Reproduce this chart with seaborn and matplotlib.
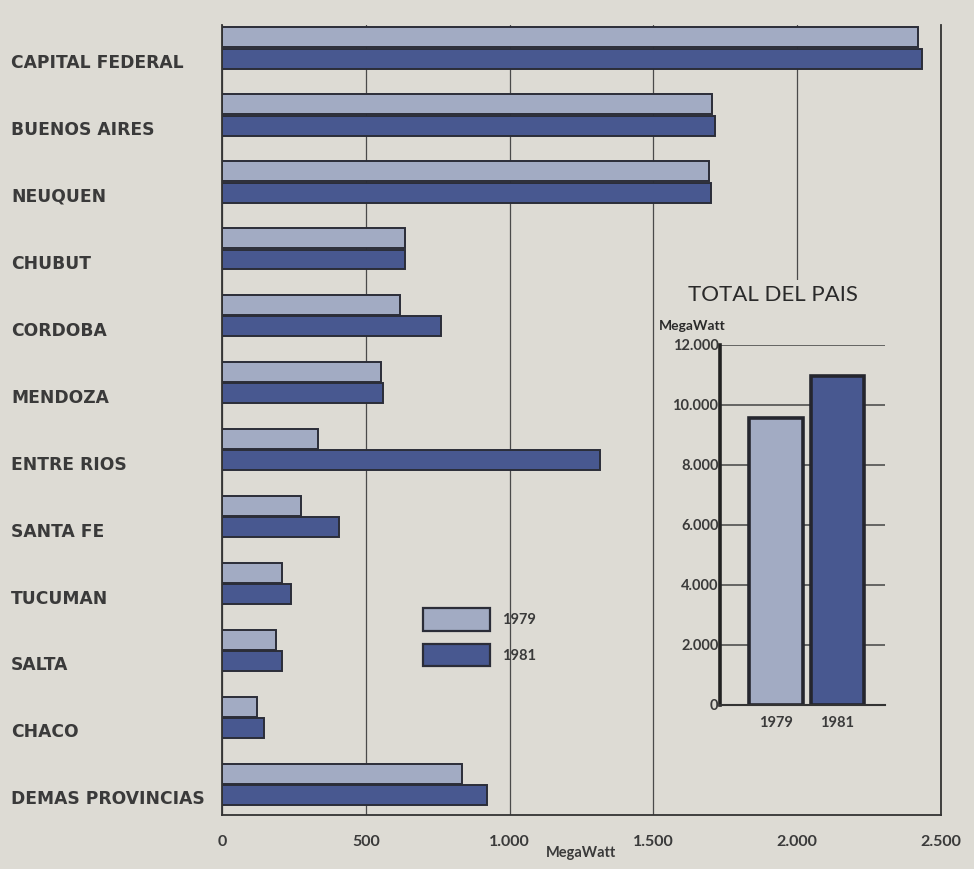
import pandas as pd
import matplotlib
matplotlib.use("Agg")
import matplotlib.pyplot as plt
import matplotlib.ticker as mticker
import matplotlib.transforms as mtransforms
from matplotlib.patches import Rectangle
import seaborn as sns

# datos (MegaWatt)
provincias = ["CAPITAL FEDERAL", "BUENOS AIRES", "NEUQUEN", "CHUBUT", "CORDOBA",
              "MENDOZA", "ENTRE RIOS", "SANTA FE", "TUCUMAN", "SALTA", "CHACO",
              "DEMAS PROVINCIAS"]
mw_1979 = [2420, 1705, 1695, 635, 618, 552, 335, 276, 207, 186, 120, 836]
mw_1981 = [2435, 1715, 1702, 635, 760, 559, 1314, 407, 238, 210, 145, 921]
anios = ["1979", "1981"]
total_pais = [9550, 10950]
xticks = [0, 500, 1000, 1500, 2000, 2500]
yticks_total = [0, 2000, 4000, 6000, 8000, 10000, 12000]

papel = "#dddbd4"
claro = "#9da8c8"
oscuro = "#3c519c"
borde = "#2b2d38"
texto = "#3a3a3a"

sns.set_style("white")
plt.rcParams["font.family"] = ["Lato", "DejaVu Sans"]

df = pd.DataFrame({
    "provincia": provincias * 2,
    "anio": [anios[0]] * len(provincias) + [anios[1]] * len(provincias),
    "mw": mw_1979 + mw_1981,
})

miles = mticker.FuncFormatter(lambda v, p: f"{int(v):,}".replace(",", "."))

fig = plt.figure(figsize=(9.74, 8.69), dpi=100, facecolor=papel)
ax = fig.add_axes([0.228, 0.062, 0.738, 0.909], facecolor=papel)

sns.barplot(data=df, y="provincia", x="mw", hue="anio", order=provincias,
            palette=[claro, oscuro], orient="h", width=0.64, gap=0.07,
            edgecolor=borde, linewidth=1.4, ax=ax)

ax.set_xlim(0, 2500)
ax.set_ylim(11.46, -0.34)
ax.set_xticks(xticks)
ax.xaxis.set_major_formatter(miles)
ax.grid(axis="x", color="#4a4a4a", linewidth=0.9)
ax.set_axisbelow(True)
for s in ["left", "bottom", "right"]:
    ax.spines[s].set_color("#333333")
    ax.spines[s].set_linewidth(1.3)
ax.spines["top"].set_visible(False)
ax.tick_params(axis="x", length=0, pad=14, labelsize=11.5, labelcolor=texto)
ax.tick_params(axis="y", length=0, pad=152, labelcolor=texto)
bajar = mtransforms.ScaledTranslation(0, -0.13, fig.dpi_scale_trans)
for lab in ax.get_yticklabels():
    lab.set_ha("left")
    lab.set_family("DejaVu Sans")
    lab.set_fontweight("bold")
    lab.set_fontsize(12.3)
    lab.set_transform(lab.get_transform() + bajar)
for lab in ax.get_xticklabels():
    lab.set_fontweight("bold")
ax.set_ylabel("")
ax.set_xlabel("MegaWatt", fontsize=10.5, fontweight="bold", color=texto, labelpad=-2)

# tapar la grilla donde va el grafico del total
ax.add_patch(Rectangle((0.65, 0.0), 0.335, 0.677, transform=ax.transAxes,
                       facecolor=papel, edgecolor="none", zorder=0.8))

handles, labels = ax.get_legend_handles_labels()
for h in handles:
    h.set_edgecolor(borde)
    h.set_linewidth(1.6)
ax.legend(handles, labels, loc="upper left", bbox_to_anchor=(0.28, 0.262),
          frameon=False, handlelength=4.6, handleheight=2.0,
          labelspacing=0.9, borderpad=0, borderaxespad=0, handletextpad=0.8,
          labelcolor=texto, prop={"weight": "bold", "size": 10.5})

# grafico del total del pais
ax2 = fig.add_axes([0.739, 0.189, 0.170, 0.414], facecolor=papel)
tot = pd.DataFrame({"anio": anios, "mw": total_pais})
sns.barplot(data=tot, x="anio", y="mw", hue="anio", palette=[claro, oscuro],
            width=0.87, edgecolor="#25262e", linewidth=2.6, legend=False, ax=ax2)
ax2.set_xlim(-0.92, 1.79)
ax2.set_ylim(0, 12000)
ax2.set_yticks(yticks_total)
ax2.yaxis.set_major_formatter(miles)
ax2.yaxis.set_minor_locator(mticker.MultipleLocator(1000))
ax2.xaxis.set_minor_locator(mticker.FixedLocator([0.5]))
ax2.grid(axis="y", color="#444444", linewidth=1.1)
ax2.set_axisbelow(True)
for s in ["top", "right"]:
    ax2.spines[s].set_visible(False)
ax2.spines["left"].set_linewidth(2.6)
ax2.spines["left"].set_color("#222222")
ax2.spines["bottom"].set_linewidth(1.5)
ax2.spines["bottom"].set_color("#333333")
ax2.tick_params(axis="y", which="major", length=0, pad=1, labelsize=10.5, labelcolor=texto)
ax2.tick_params(axis="y", which="minor", direction="in", length=9, width=1.2, color="#333333")
ax2.tick_params(axis="x", which="major", length=0, pad=8, labelsize=10.5, labelcolor=texto)
ax2.tick_params(axis="x", which="minor", direction="out", length=8, width=1, color="#333333")
for lab in ax2.get_yticklabels() + ax2.get_xticklabels():
    lab.set_fontweight("bold")
ax2.set_xlabel("")
ax2.set_ylabel("")
ax2.text(0.32, 1.11, "TOTAL DEL PAIS", transform=ax2.transAxes, ha="center",
         va="bottom", fontsize=16, color="#2a2a2a")
ax2.text(-0.37, 1.035, "MegaWatt", transform=ax2.transAxes, ha="left",
         va="bottom", fontsize=10, fontweight="bold", color="#2a2a2a")

fig.savefig("out.png", dpi=100, facecolor=papel)
